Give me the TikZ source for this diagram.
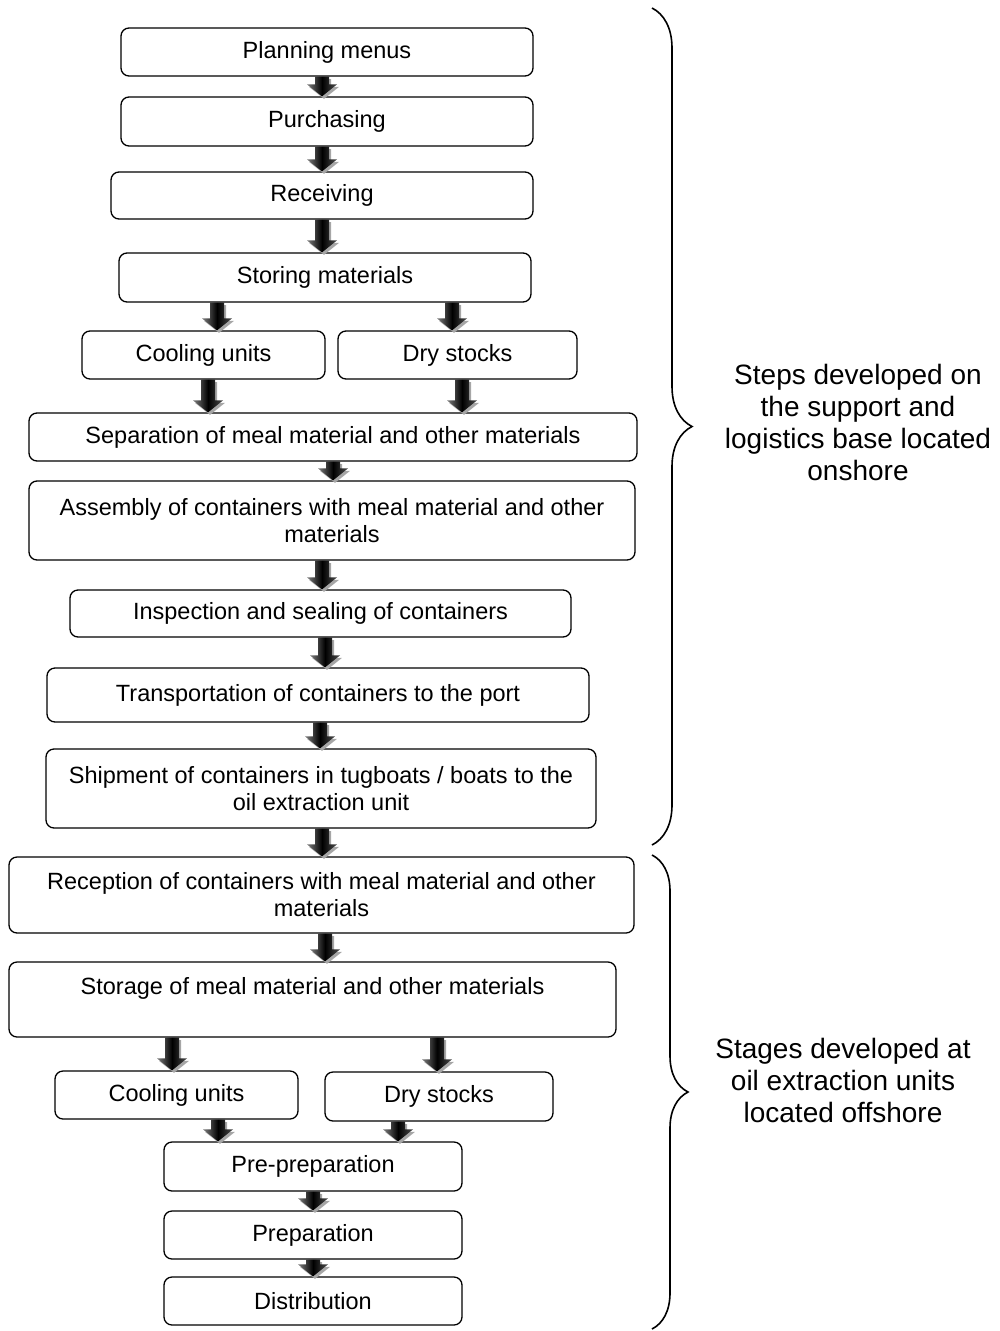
\documentclass[tikz,border=0pt]{standalone}
\usepackage{fontspec}
\setmainfont{Liberation Sans}
\usetikzlibrary{calc,shadows,decorations.pathreplacing}

\newcommand{\boxfont}{\fontsize{23.5}{27}\selectfont}
\newcommand{\sidefont}{\fontsize{28}{32}\selectfont}
\newcommand{\flowarrow}[3]{%
    \path (#1.south -| #3,0) coordinate (fa-top) (#2.north -| #3,0) coordinate (fa-tip);
    \shade[flowarrow] ($(fa-top)+(-7,0)$) -- ($(fa-top)+(7,0)$) -- ($(fa-tip)+(7,-12)$)
        -- ($(fa-tip)+(15,-12)$) -- (fa-tip) -- ($(fa-tip)+(-15,-12)$) -- ($(fa-tip)+(-7,-12)$) -- cycle;
}

\begin{document}
\begin{tikzpicture}[
                x=1pt, y=-1pt,
                stepbox/.style={draw, rounded corners=8pt, line width=1.3pt, align=center, inner sep=3pt, font=\boxfont},
                flowarrow/.style={left color=black!50, right color=black!70, middle color=black,
                    drop shadow={shadow xshift=2pt, shadow yshift=-2.5pt, fill=black!35, opacity=1}},
                bracket/.style={decorate, line width=1.6pt},
                sidelabel/.style={align=center, font=\sidefont}
            ]
                \useasboundingbox (0,0) rectangle (1000,1331);
                % onshore steps
                \node[stepbox, minimum width=412pt, minimum height=48pt] (plan)  at (327,52)    {Planning menus};
                \node[stepbox, minimum width=412pt, minimum height=49pt] (purch) at (327,121.5) {Purchasing};
                \node[stepbox, minimum width=422pt, minimum height=47pt] (recv)  at (322,195.5) {Receiving};
                \node[stepbox, minimum width=412pt, minimum height=49pt] (store) at (325,277.5) {Storing materials};
                \node[stepbox, minimum width=243pt, minimum height=48pt] (coolA) at (203.5,355) {Cooling units};
                \node[stepbox, minimum width=239pt, minimum height=48pt] (dryA)  at (457.5,355) {Dry stocks};
                \node[stepbox, minimum width=608pt, minimum height=48pt] (sep)   at (333,437)   {Separation of meal material and other materials};
                \node[stepbox, minimum width=606pt, minimum height=79pt] (asm)   at (332,520.5) {Assembly of containers with meal material and other\\materials};
                \node[stepbox, minimum width=501pt, minimum height=47pt] (insp)  at (320.5,613.5) {Inspection and sealing of containers};
                \node[stepbox, minimum width=542pt, minimum height=54pt] (trans) at (318,695)   {Transportation of containers to the port};
                \node[stepbox, minimum width=550pt, minimum height=79pt] (ship)  at (321,788.5) {Shipment of containers in tugboats / boats to the\\oil extraction unit};
                % offshore stages
                \node[stepbox, minimum width=625pt, minimum height=76pt] (recep) at (321.5,895) {Reception of containers with meal material and other\\materials};
                \node[stepbox, minimum width=607pt, minimum height=75pt] (stor)  at (312.5,999.5) {Storage of meal material and other materials\\~};
                \node[stepbox, minimum width=243pt, minimum height=48pt] (coolB) at (176.5,1095) {Cooling units};
                \node[stepbox, minimum width=228pt, minimum height=49pt] (dryB)  at (439,1096.5) {Dry stocks};
                \node[stepbox, minimum width=298pt, minimum height=49pt] (prepre) at (313,1166.5) {Pre-preparation};
                \node[stepbox, minimum width=298pt, minimum height=48pt] (prep)  at (313,1235)  {Preparation};
                \node[stepbox, minimum width=298pt, minimum height=48pt] (dist)  at (313,1301)  {Distribution};
                % block arrows
                \foreach \a/\b/\x in {plan/purch/322, purch/recv/322, recv/store/322, store/coolA/217, store/dryA/452,
                        coolA/sep/208, dryA/sep/462, sep/asm/333, asm/insp/322, insp/trans/325, trans/ship/320,
                        ship/recep/322, recep/stor/325, stor/coolB/172, stor/dryB/437, coolB/prepre/218,
                        dryB/prepre/398, prepre/prep/313, prep/dist/313}
                    \flowarrow{\a}{\b}{\x};
                % braces and their labels
                \coordinate (onTop) at (652,8);
                \coordinate (onBot) at (652,845);
                \coordinate (offTop) at (652,855);
                \coordinate (offBot) at (652,1329);
                \draw[bracket, decoration={brace, amplitude=40pt}] (onTop) -- (onBot);
                \draw[bracket, decoration={brace, amplitude=36pt}] (offTop) -- (offBot);
                \node[sidelabel] (onshore)  at (858,422)  {Steps developed on\\the support and\\logistics base located\\onshore};
                \node[sidelabel] (offshore) at (843,1080) {Stages developed at\\oil extraction units\\located offshore};
            \end{tikzpicture}
\end{document}
